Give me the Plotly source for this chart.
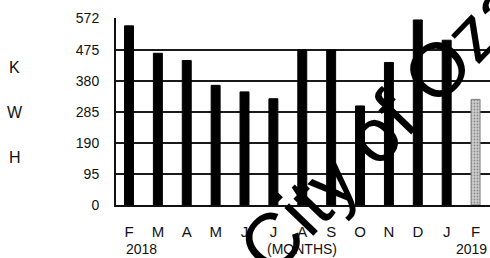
import plotly.graph_objects as go

months = ["F", "M", "A", "M", "J", "J", "A", "S", "O", "N", "D", "J", "F"]
kwh = [548, 464, 442, 366, 346, 325, 474, 474, 303, 436, 566, 504, 323]
y_ticks = [0, 95, 190, 285, 380, 475, 572]
year_labels = ["2018", "2019"]
axis_title = "(MONTHS)"
unit_letters = ["K", "W", "H"]
watermark = "City of Ozark"

x = list(range(len(months)))
colors = ["#000000"] * (len(months) - 1) + ["#cfcfcf"]
line_colors = ["#000000"] * (len(months) - 1) + ["#7a7a7a"]
pattern_shapes = [""] * (len(months) - 1) + ["."]

fig = go.Figure()
fig.add_trace(go.Bar(
    x=x, y=kwh, width=0.31,
    marker=dict(color=colors, line=dict(color=line_colors, width=1),
                pattern=dict(shape=pattern_shapes, fgcolor="#8a8a8a", size=3, solidity=0.3)),
    showlegend=False, hoverinfo="skip",
))

FONT = "Liberation Sans, Arial, sans-serif"
fig.update_layout(
    width=490, height=258,
    margin=dict(l=116, r=0, t=18, b=53),
    paper_bgcolor="white", plot_bgcolor="white",
    font=dict(family=FONT, color="black"),
    xaxis=dict(
        range=[-0.45, 12.5], tickvals=x, ticktext=months,
        showgrid=False, zeroline=False, showline=True, linecolor="#111", linewidth=2,
        ticks="", ticklabelstandoff=12, tickfont=dict(size=15, color="#111"),
    ),
    yaxis=dict(
        range=[0, 572], tickvals=y_ticks, ticktext=[str(v) for v in y_ticks],
        showgrid=True, gridcolor="#1a1a1a", gridwidth=1.8,
        zeroline=False, showline=True, linecolor="#111", linewidth=2,
        ticks="", ticklabelstandoff=12, tickfont=dict(size=14, color="#111"),
    ),
)

W = 374.0
H = 187.0
def px(xp):
    return (xp - 116) / W
def py(yp):
    return (205 - yp) / H

ann = []
for letter, yy in zip(unit_letters, [67, 112, 157]):
    ann.append(dict(text=letter, x=px(15), y=py(yy), xref="paper", yref="paper",
                    xanchor="center", yanchor="middle",
                    showarrow=False, font=dict(size=16, color="#111")))
ann.append(dict(text=year_labels[0], x=0, y=py(249), xref="x", yref="paper",
                xanchor="left", yanchor="middle", xshift=-5, showarrow=False,
                font=dict(size=14, color="#111")))
ann.append(dict(text=year_labels[1], x=12, y=py(249), xref="x", yref="paper",
                xanchor="center", yanchor="middle", xshift=-4, showarrow=False,
                font=dict(size=14, color="#111")))
ann.append(dict(text=axis_title, x=6, y=py(249), xref="x", yref="paper",
                xanchor="center", yanchor="middle", showarrow=False,
                font=dict(size=14, color="#111")))
ann.append(dict(text=watermark, x=px(405), y=py(102), xref="paper", yref="paper",
                xanchor="center", yanchor="middle",
                textangle=-46, showarrow=False, font=dict(size=76, color="black")))
fig.update_layout(annotations=ann, hovermode=False)

fig.write_html("out.html", config={"displayModeBar": False},
               post_script="document.body.style.margin='0';")
